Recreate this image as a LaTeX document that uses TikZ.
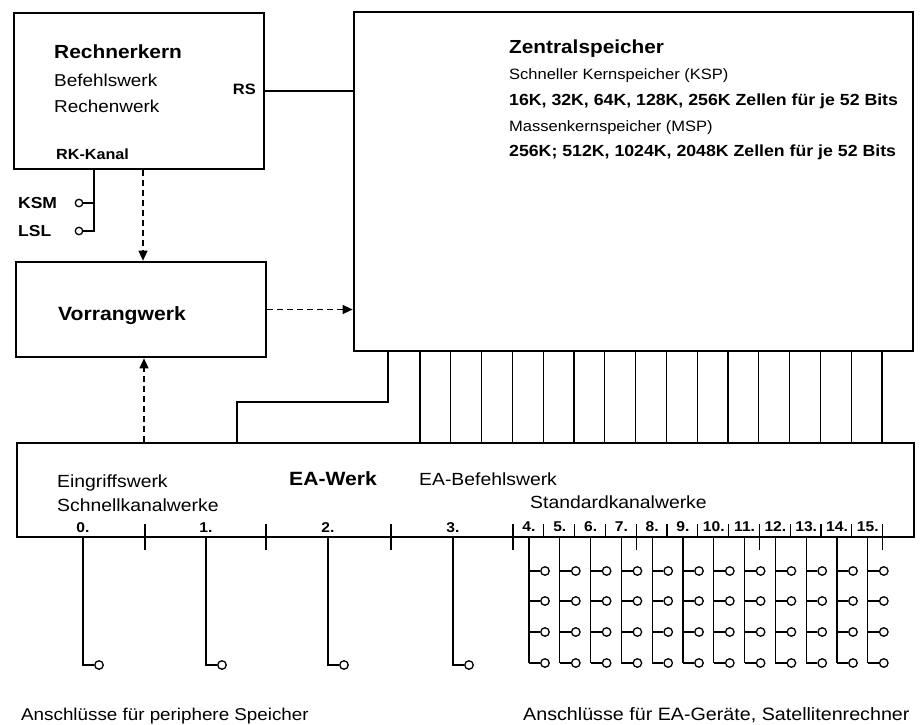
\documentclass[tikz,border=0pt]{standalone}
\usepackage{fontspec}
\setmainfont[FakeStretch=1.1]{Liberation Sans}
\usetikzlibrary{arrows.meta}
\newcommand\myfs[2]{\fontsize{#1}{#2}\selectfont}
\begin{document}
\begin{tikzpicture}[x=1pt,y=-1pt,
  box/.style={draw,line width=2.7pt,inner sep=0pt},
  wire/.style={line width=1.3pt},
  dsh/.style={line width=1.3pt,dash pattern=on 6pt off 4pt,-{Triangle[length=10pt,width=9pt]}},
  lbl/.style={anchor=base west,inner sep=0pt},
  num/.style={anchor=base,inner sep=0pt,font=\myfs{14.2}{16}\bfseries},
  port/.style={circle,draw,line width=1.3pt,minimum size=8.5pt,inner sep=0pt},
]
\useasboundingbox (0,0) rectangle (924,725);

% boxes
\node[box,minimum width=250pt,minimum height=156pt] (rk) at (139,91) {};
\node[box,minimum width=559pt,minimum height=339pt] (zs) at (633.5,181.5) {};
\node[box,minimum width=250pt,minimum height=95pt] (vw) at (141,309.5) {};
\node[box,minimum width=897pt,minimum height=94pt] (ea) at (465.5,490) {};

% Rechnerkern texts
\node[lbl,font=\myfs{19}{22}\bfseries] (t1) at (54,59) {Rechnerkern};
\node[lbl,font=\myfs{17.2}{20}] (t2) at (54,87) {Befehlswerk};
\node[lbl,font=\myfs{17.2}{20}] (t3) at (54,112) {Rechenwerk};
\node[lbl,font=\myfs{14.7}{17}\bfseries] (t4) at (56,159) {RK-Kanal};
\node[anchor=base east,inner sep=0pt,font=\myfs{15}{17}\bfseries] (t5) at (256,95) {RS};
\draw[wire] (rk.east) -- (rk.east -| zs.west);

% KSM / LSL
\node[port,minimum size=7.5pt] (pk) at (79,203) {};
\node[port,minimum size=7.5pt] (pl) at (79,231) {};
\node[lbl,font=\myfs{15.9}{18}\bfseries] (tk) at (18,208.5) {KSM};
\node[lbl,font=\myfs{15.9}{18}\bfseries] (tl) at (18,236) {LSL};
\coordinate (rkk) at ([xshift=-45pt]rk.south);
\draw[wire] (rkk) |- (pl.east);
\draw[wire] (pk.east) -- (pk.east -| rkk);

% Vorrangwerk
\node[lbl,font=\myfs{19.2}{22}\bfseries] (tv) at (58,320.5) {Vorrangwerk};

% dashed arrows
\coordinate (d1) at ([xshift=4pt]rk.south);
\draw[dsh] (d1) -- (d1 |- vw.north);
\draw[dsh] (vw.east) -- (vw.east -| zs.west);
\coordinate (d2) at ([xshift=3pt]vw.south);
\draw[dsh] (d2 |- ea.north) -- (d2);

% Zentralspeicher texts
\node[lbl,font=\myfs{18.9}{22}\bfseries] (z1) at (509,54) {Zentralspeicher};
\node[lbl,font=\myfs{15}{18}] (z2) at (509,80) {Schneller Kernspeicher (KSP)};
\node[lbl,font=\myfs{16.1}{18}\bfseries] (z3) at (509,105) {16K, 32K, 64K, 128K, 256K Zellen für je 52 Bits};
\node[lbl,font=\myfs{15}{18}] (z4) at (509,131) {Massenkernspeicher (MSP)};
\node[lbl,font=\myfs{16.1}{18}\bfseries] (z5) at (509,156) {256K; 512K, 1024K, 2048K Zellen für je 52 Bits};

% bus between Zentralspeicher and EA-Werk
\coordinate (l1) at (388,402);
\coordinate (l2) at (237,402);
\draw[wire] (l1 |- zs.south) -- (l1) -- (l2) -- (l2 |- ea.north);
\foreach \i in {0,...,15} {
  \coordinate (b\i) at ({420+30.8*\i},400);
  \draw[wire] (b\i |- zs.south) -- (b\i |- ea.north);
}

% EA-Werk texts
\node[lbl,font=\myfs{17.6}{20}] (e1) at (57,487) {Eingriffswerk};
\node[lbl,font=\myfs{17.6}{20}] (e2) at (57,511) {Schnellkanalwerke};
\node[lbl,font=\myfs{19.2}{22}\bfseries] (e3) at (289,485) {EA-Werk};
\node[lbl,font=\myfs{17.6}{20}] (e4) at (419,485) {EA-Befehlswerk};
\node[lbl,font=\myfs{17.6}{20}] (e5) at (530,508) {Standardkanalwerke};

% ticks
\foreach \x in {145,266,391,513,636.2,759.4,882.6}
  \draw[wire] (\x,524) -- (\x,550);
\foreach \i in {1,2,3,5,6,7,9,10,11}
  \draw[wire] ({513+30.8*\i},524) -- ({513+30.8*\i},537);

% channels 0-3
\foreach \x [count=\k from 0] in {83,206,328,453} {
  \node[num] (n\k) at (\x,532) {\k.};
  \node[port] (q\k) at (\x+16,665) {};
  \coordinate (c\k) at (\x,665);
  \draw[wire] (c\k |- ea.south) -- (c\k) -- (q\k.west);
}

% channels 4-15
\foreach \i in {0,...,11} {
  \pgfmathtruncatemacro\nn{\i+4}
  \node[num] (m\i) at ({529+30.8*\i},531) {\nn.};
  \coordinate (s\i) at ({529+30.8*\i},663);
  \draw[wire] (s\i |- ea.south) -- (s\i);
  \foreach \r [count=\j] in {571,601,632,663} {
    \node[port] (p\i r\j) at ({545+30.8*\i},\r) {};
    \draw[wire] (p\i r\j.west) -- (p\i r\j.west -| s\i);
  }
}

% bottom captions
\node[lbl,font=\myfs{17.1}{20}] (a1) at (21,720) {Anschlüsse für periphere Speicher};
\node[lbl,font=\myfs{17.9}{20}] (a2) at (523,720) {Anschlüsse für EA-Geräte, Satellitenrechner};
\end{tikzpicture}
\end{document}
